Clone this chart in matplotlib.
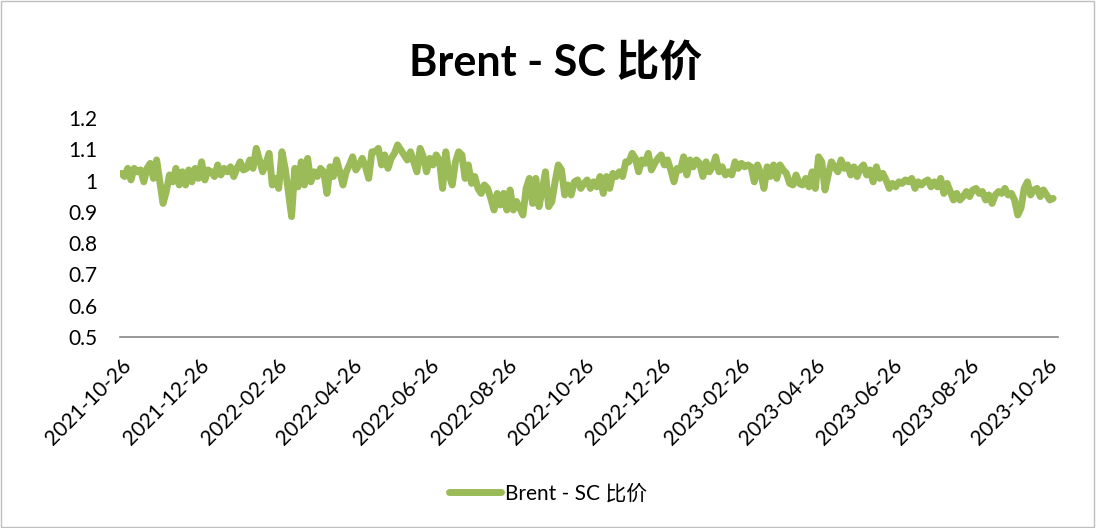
import matplotlib
matplotlib.use("Agg")
import matplotlib.pyplot as plt
import pandas as pd

plt.rcParams['font.family'] = ['Lato', 'Noto Sans CJK SC', 'DejaVu Sans']
plt.rcParams['axes.unicode_minus'] = False

# === 数据 ===
title = 'Brent - SC 比价'
series_name = 'Brent - SC 比价'
start_date = '2021-10-26'
end_date = '2023-10-31'
tick_labels = ['2021-10-26', '2021-12-26', '2022-02-26', '2022-04-26',
               '2022-06-26', '2022-08-26', '2022-10-26', '2022-12-26',
               '2023-02-26', '2023-04-26', '2023-06-26', '2023-08-26',
               '2023-10-26']

ratio_2021_2022 = [
    1.023, 1.013, 1.039, 1.002, 1.039, 1.028, 1.034, 0.996, 1.039, 1.055,
    1.007, 1.066, 0.996, 0.927, 0.965, 1.018, 0.996, 1.039, 0.986, 1.028,
    0.986, 1.034, 0.996, 1.039, 1.007, 1.060, 1.002, 1.034, 1.028, 1.013,
    1.050, 1.018, 1.039, 1.028, 1.044, 1.013, 1.039, 1.060, 1.034, 1.039,
    1.066, 1.039, 1.103, 1.066, 1.028, 1.055, 1.087, 0.986,
    1.007, 0.975, 1.092, 1.039, 0.965, 0.885, 1.039, 0.980, 1.060, 0.986,
    1.071, 0.996, 1.028, 1.013, 1.039, 1.028, 0.959, 1.044, 1.013, 1.066,
    1.028, 0.986, 1.028, 1.050, 1.076, 1.034, 1.050, 1.071, 1.044, 1.007,
    1.092, 1.092, 1.103, 1.050, 1.082, 1.039, 1.071, 1.087, 1.114, 1.098,
    1.082, 1.066, 1.092, 1.060, 1.028, 1.103, 1.076, 1.028, 1.071,
    1.050, 1.082, 1.066, 0.975, 1.092, 1.018, 0.986, 1.060, 1.092, 1.082,
    1.007, 1.050, 0.991, 1.013, 0.975, 0.959, 0.986, 0.975, 0.943, 0.906,
    0.959, 0.922, 0.959, 0.906, 0.970, 0.906, 0.933, 0.912, 0.890, 0.975,
    1.007, 0.927, 1.007, 0.917, 0.970, 1.028, 0.917, 0.933, 0.996, 1.050,
    1.034, 0.954, 0.986, 0.954, 0.996, 1.002, 0.975, 0.991,
]
ratio_2023 = [
    1.002, 0.975, 0.996, 0.980, 1.013, 0.959, 1.013, 0.975, 1.023, 1.013,
    1.028, 1.013, 1.060, 1.060, 1.087, 1.071, 1.028, 1.066, 1.055, 1.087,
    1.034, 1.055, 1.071, 1.082, 1.050, 1.066, 1.034, 0.996, 1.039, 1.034,
    1.076, 1.018, 1.066, 1.044, 1.066, 1.055, 1.013, 1.060, 1.028, 1.044,
    1.076, 1.028, 1.044, 1.018, 1.028, 1.018, 1.060, 1.039, 1.055,
    1.044, 1.050, 1.044, 0.996, 1.050, 1.023, 0.975, 1.044, 1.013, 1.050,
    1.007, 1.050, 1.034, 1.023, 0.991, 0.986, 1.018, 0.991, 0.986, 1.007,
    0.980, 1.028, 0.975, 1.076, 1.060, 0.970, 1.018, 1.060, 1.044, 1.028,
    1.066, 1.039, 1.050, 1.018, 1.044, 1.013, 1.039, 1.050, 1.018, 1.034,
    0.996, 1.044, 1.007, 1.023, 1.002, 0.975, 0.991, 0.980,
    0.996, 0.991, 1.002, 0.996, 1.007, 0.975, 0.996, 0.986, 0.996, 1.002,
    0.980, 0.996, 0.980, 1.007, 0.959, 0.991, 0.965, 0.938, 0.959, 0.938,
    0.949, 0.965, 0.949, 0.970, 0.975, 0.959, 0.965, 0.938, 0.954, 0.927,
    0.954, 0.965, 0.959, 0.975, 0.954, 0.959, 0.938, 0.890, 0.912, 0.975,
    0.996, 0.954, 0.970, 0.975, 0.949, 0.970, 0.954, 0.938, 0.943,
]

values = ratio_2021_2022 + ratio_2023
dates = pd.date_range(start_date, end_date, periods=len(values))

# === 绘图 ===
fig = plt.figure(figsize=(10.96, 5.28), dpi=100)
ax = fig.add_axes([0.1095, 0.3617, 0.856, 0.4148])

ax.plot(dates, values, color='#9BBB59', lw=5, label=series_name,
        solid_joinstyle='round', solid_capstyle='round')

ax.set_ylim(0.5, 1.2)
ax.set_yticks([0.5, 0.6, 0.7, 0.8, 0.9, 1.0, 1.1, 1.2])
ax.set_yticklabels(['0.5', '0.6', '0.7', '0.8', '0.9', '1', '1.1', '1.2'])

x0 = pd.Timestamp(start_date) - pd.Timedelta(days=1)
ax.set_xlim(x0, x0 + pd.Timedelta(days=740))
ax.set_xticks(pd.to_datetime(tick_labels))
ax.set_xticklabels(tick_labels, rotation=45, ha='right', rotation_mode='anchor')

ax.tick_params(axis='both', length=0, labelsize=15, colors='#000000')
ax.tick_params(axis='x', pad=13)
ax.tick_params(axis='y', pad=16)

for s in ['top', 'right', 'left']:
    ax.spines[s].set_visible(False)
ax.spines['bottom'].set_color('#868686')
ax.spines['bottom'].set_linewidth(1.2)

fig.text(0.507, 0.882, title, ha='center', va='center',
         fontsize=31, fontweight='bold')

fig.legend(loc='center', bbox_to_anchor=(0.5, 0.066), frameon=False,
           fontsize=15, handlelength=2.5, handletextpad=0.2)

# 图表外框
fig.patches.append(plt.Rectangle((0.001, 0.002), 0.997, 0.996,
                                 transform=fig.transFigure, fill=False,
                                 edgecolor='#BFBFBF', lw=1))

fig.savefig('out.png', dpi=100)
